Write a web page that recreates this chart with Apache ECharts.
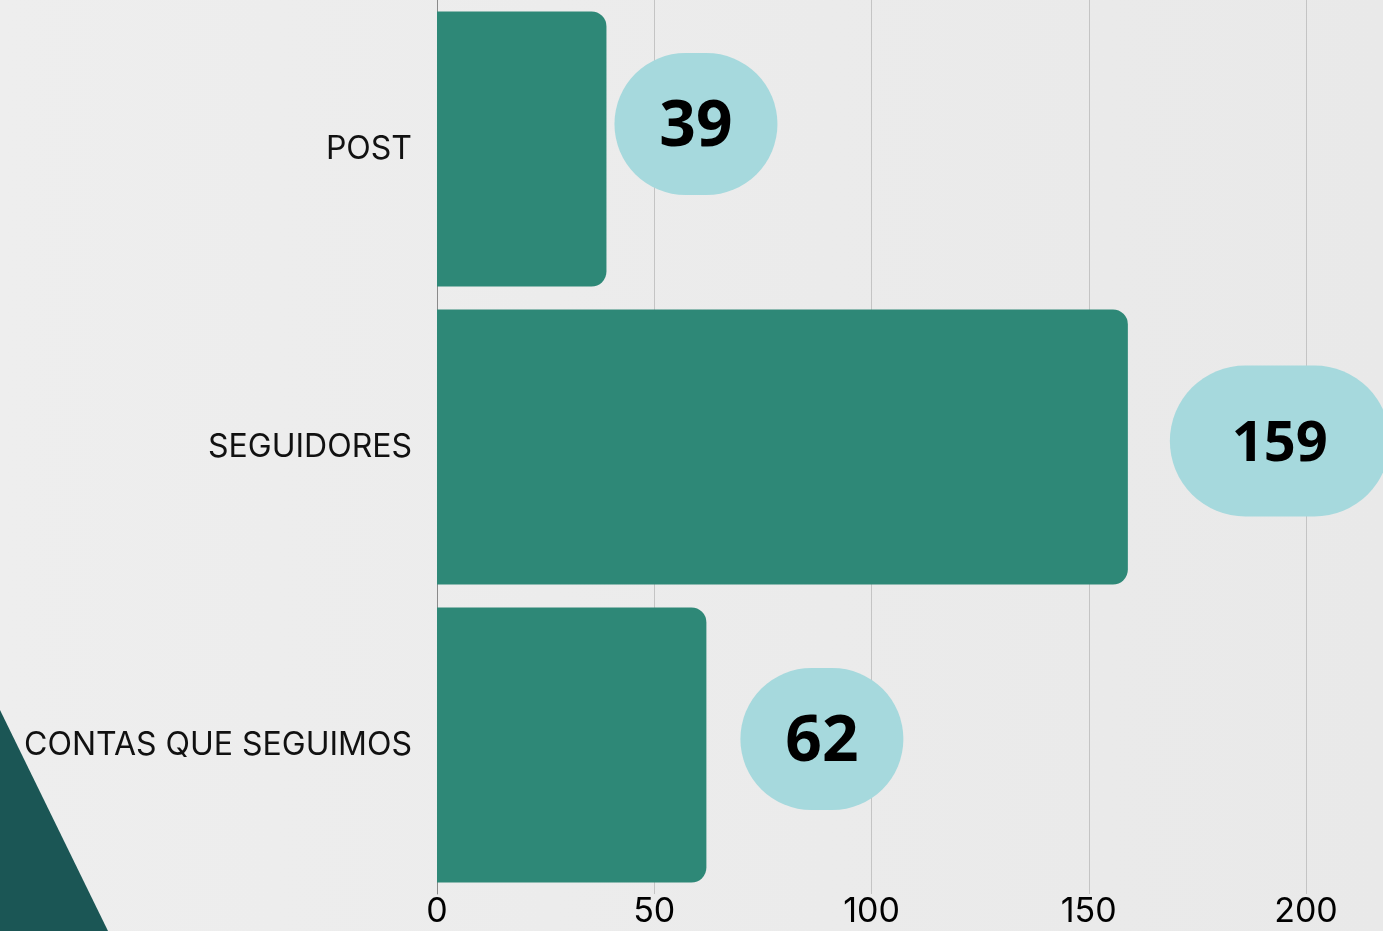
<!DOCTYPE html>
<html>
<head>
<meta charset="utf-8">
<script src="https://cdn.jsdelivr.net/npm/echarts@6/dist/echarts.min.js"></script>
<style>
  html, body { margin: 0; padding: 0; }
  #chart { width: 1383px; height: 931px; }
</style>
</head>
<body>
<div id="chart"></div>
<script>
// Instagram profile figures
const categories = ['POST', 'SEGUIDORES', 'CONTAS QUE SEGUIMOS'];
const values = [39, 159, 62];
const xTicks = [0, 50, 100, 150, 200];

// Pill badges next to each bar: [gap from bar end, vertical shift, width, height, font size]
const pillLayout = [
  [8, -25, 163, 142, 64],
  [42, -6, 220, 151, 56],
  [34, -6, 163, 142, 64]
];

const BAR = '#2e8877';
const PILL = '#a6d9dd';
const TEXT_DROP = 8; // a slightly taller line box drops the digits inside the pill

const chart = echarts.init(document.getElementById('chart'), null, { renderer: 'canvas' });

// The label is centred on its anchor, so push it out by half its width
const seriesData = values.map((v, i) => {
  const [gap, dy, w, h, fs] = pillLayout[i];
  return {
    value: v,
    label: {
      distance: gap + w / 2,
      offset: [0, dy],
      width: w,
      height: h,
      borderRadius: h / 2,
      formatter: '{n|{c}}',
      rich: {
        n: {
          fontSize: fs,
          fontFamily: 'Open Sans, sans-serif',
          fontWeight: 'bold',
          color: '#000',
          lineHeight: h + TEXT_DROP
        }
      }
    }
  };
});

chart.setOption({
  backgroundColor: {
    type: 'linear', x: 0, y: 0, x2: 1, y2: 0,
    colorStops: [
      { offset: 0, color: '#eeeeee' },
      { offset: 1, color: '#e9e9e9' }
    ]
  },
  animation: false,
  graphic: [{
    type: 'polygon',
    z: -1,
    silent: true,
    shape: { points: [[0, 710], [108, 931], [0, 931]] },
    style: { fill: '#1b5655' }
  }],
  grid: { left: 437, right: 77, top: 0, bottom: 37 },
  xAxis: {
    type: 'value',
    min: xTicks[0],
    max: xTicks[xTicks.length - 1],
    interval: xTicks[1] - xTicks[0],
    axisLine: { show: false },
    axisTick: { show: false },
    splitLine: { show: true, lineStyle: { color: '#c4c4c4', width: 1 } },
    axisLabel: {
      margin: 1,
      color: '#000',
      fontFamily: 'Inter, sans-serif',
      fontSize: 34
    }
  },
  yAxis: {
    type: 'category',
    inverse: true,
    data: categories,
    axisLine: { show: true, lineStyle: { color: '#8a8a8a', width: 1 } },
    axisTick: { show: false },
    axisLabel: {
      margin: 25,
      color: '#111',
      fontFamily: 'Inter, sans-serif',
      fontSize: 32
    }
  },
  series: [{
    type: 'bar',
    data: seriesData,
    barCategoryGap: '7.7%',
    itemStyle: { color: BAR, borderRadius: [0, 15, 15, 0] },
    label: {
      show: true,
      position: 'right',
      color: '#000',
      fontFamily: 'Open Sans, sans-serif',
      fontWeight: 'bold',
      backgroundColor: PILL,
      align: 'center',
      verticalAlign: 'middle'
    }
  }]
});
</script>
</body>
</html>
